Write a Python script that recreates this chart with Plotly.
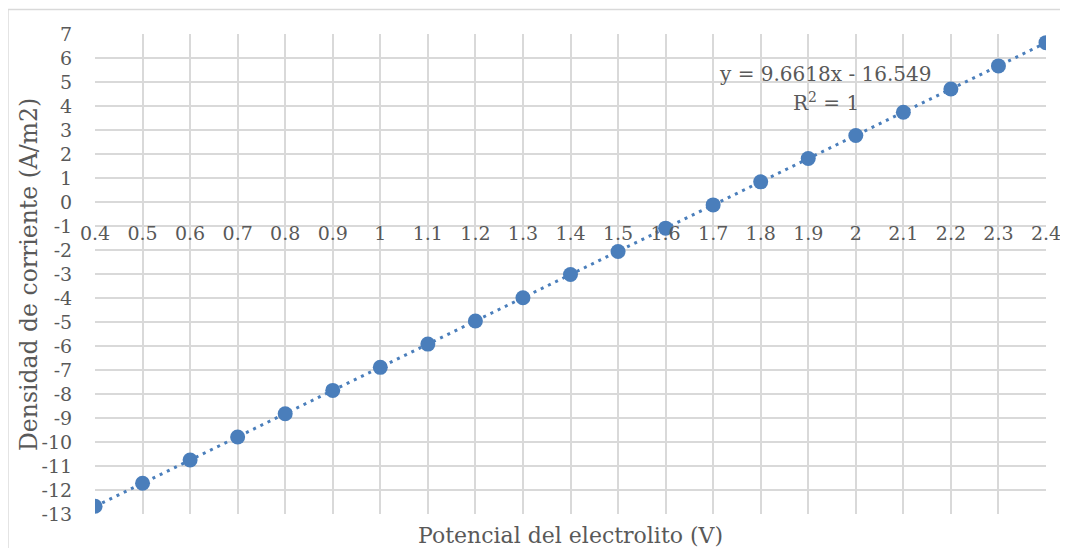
import numpy as np
import plotly.graph_objects as go

potencial = [0.4, 0.5, 0.6, 0.7, 0.8, 0.9, 1.0, 1.1, 1.2, 1.3, 1.4,
             1.5, 1.6, 1.7, 1.8, 1.9, 2.0, 2.1, 2.2, 2.3, 2.4]
densidad = [-12.68, -11.72, -10.75, -9.79, -8.82, -7.85, -6.89, -5.92, -4.96,
            -3.99, -3.02, -2.06, -1.09, -0.12, 0.84, 1.81, 2.77, 3.74, 4.71,
            5.67, 6.64]
x_ticks = [0.4, 0.5, 0.6, 0.7, 0.8, 0.9, 1.0, 1.1, 1.2, 1.3, 1.4,
           1.5, 1.6, 1.7, 1.8, 1.9, 2.0, 2.1, 2.2, 2.3, 2.4]
x_tick_labels = ["0.4", "0.5", "0.6", "0.7", "0.8", "0.9", "1", "1.1", "1.2",
                 "1.3", "1.4", "1.5", "1.6", "1.7", "1.8", "1.9", "2", "2.1",
                 "2.2", "2.3", "2.4"]
y_ticks = list(range(-13, 8))
y_tick_labels = [str(v) for v in y_ticks]

slope, intercept = np.polyfit(potencial, densidad, 1)
trend_x = np.array([potencial[0], potencial[-1]])
trend_y = slope * trend_x + intercept

FONT = "DejaVu Serif"
TXT = "#595959"
BLUE = "#4a7ebb"
GRID = "#d9d9d9"

W, H = 1060, 540
L, R, T, B = 87, 22.4, 25.5, 34
PW = W - L - R
PH = H - T - B

fig = go.Figure()
fig.add_trace(go.Scatter(x=trend_x, y=trend_y, mode="lines",
                         line=dict(color=BLUE, width=3, dash="3px,5px"),
                         hoverinfo="skip", showlegend=False))
fig.add_trace(go.Scatter(x=potencial, y=densidad, mode="markers",
                         marker=dict(color=BLUE, size=15),
                         showlegend=False))

fig.update_layout(
    width=W, height=H,
    margin=dict(l=L, r=R, t=T, b=B, autoexpand=False),
    paper_bgcolor="white", plot_bgcolor="white",
    font=dict(family=FONT, color=TXT, size=19),
    xaxis=dict(range=[0.4, 2.4], tickvals=x_ticks, ticktext=x_tick_labels,
               showgrid=True, gridcolor=GRID, gridwidth=1.5,
               zeroline=False, showline=False,
               anchor="free", position=13 / 20,
               ticks="outside", ticklen=14, tickcolor="rgba(0,0,0,0)",
               tickfont=dict(family=FONT, color=TXT, size=19)),
    yaxis=dict(range=[-13, 7], tickvals=y_ticks, ticktext=y_tick_labels,
               showgrid=True, gridcolor=GRID, gridwidth=1.5,
               zeroline=False, showline=False,
               ticks="outside", ticklen=18, tickcolor="rgba(0,0,0,0)",
               tickfont=dict(family=FONT, color=TXT, size=19)),
)

fig.add_annotation(text="Densidad de corriente (A/m2)", xref="paper", yref="paper",
                   x=(21 - L) / PW, y=0.5, textangle=-90, showarrow=False,
                   xanchor="center", yanchor="middle",
                   font=dict(family=FONT, color=TXT, size=23.5))
fig.add_annotation(text="Potencial del electrolito (V)", xref="paper", yref="paper",
                   x=0.5, y=0, yshift=-21, showarrow=False, yanchor="middle",
                   font=dict(family=FONT, color=TXT, size=22))
fig.add_annotation(text="y = 9.6618x - 16.549", xref="x", yref="y",
                   x=1.935, y=5.35, showarrow=False,
                   font=dict(family=FONT, color=TXT, size=20))
fig.add_annotation(text="R<sup>2</sup> = 1", xref="x", yref="y",
                   x=1.937, y=4.15, showarrow=False,
                   font=dict(family=FONT, color=TXT, size=20))

fig.add_shape(type="rect", xref="paper", yref="paper",
              x0=(0 - L) / PW, x1=1 + 40 / PW, y0=-60 / PH, y1=1 + (T - 1) / PH,
              line=dict(color=GRID, width=1.5), fillcolor="rgba(0,0,0,0)",
              layer="below")

fig.write_html("out.html")
